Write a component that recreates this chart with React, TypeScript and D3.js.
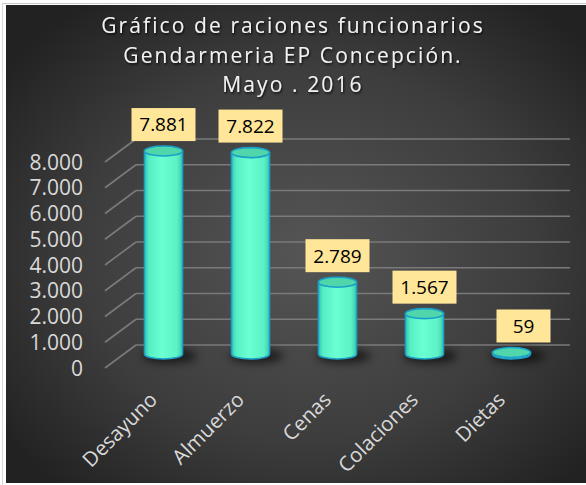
import React from "react";
import * as d3 from "d3";

const categories = ["Desayuno", "Almuerzo", "Cenas", "Colaciones", "Dietas"];
const values = [7881, 7822, 2789, 1567, 59];
const valueLabels = ["7.881", "7.822", "2.789", "1.567", "59"];
const yTicks = [0, 1000, 2000, 3000, 4000, 5000, 6000, 7000, 8000];
const titleLines = ["Gráfico de raciones funcionarios", "Gendarmeria EP Concepción.", "Mayo . 2016"];

const W = 586;
const H = 485;

export default function App() {
  const fmt = (v: number) => d3.format(",")(v).replace(/,/g, ".");
  const yFront = d3.scaleLinear().domain([0, 8000]).range([368, 162]);
  const depthX = 31;
  const depthY = 23;
  const frontX = 105;
  const backRight = 570;
  const barDepth = 14;
  const x = d3.scaleBand<string>().domain(categories).range([120, 555]).padding(0);
  const bw = 38;
  const ry = 5;
  const font = "'Open Sans', 'Noto Sans', sans-serif";

  return (
    <svg width={W} height={H} style={{ position: "absolute", left: 0, top: 0 }}>
      <defs>
        <radialGradient id="bg" cx="52%" cy="52%" r="65%">
          <stop offset="0%" stopColor="#555555" />
          <stop offset="60%" stopColor="#3d3d3d" />
          <stop offset="100%" stopColor="#222222" />
        </radialGradient>
        <linearGradient id="cyl" x1="0" x2="1" y1="0" y2="0">
          <stop offset="0%" stopColor="#33c9b0" />
          <stop offset="12%" stopColor="#55eec4" />
          <stop offset="45%" stopColor="#6bffd2" />
          <stop offset="85%" stopColor="#5cf2c6" />
          <stop offset="100%" stopColor="#3acbb0" />
        </linearGradient>
        <filter id="blur" x="-50%" y="-100%" width="200%" height="300%">
          <feGaussianBlur stdDeviation="4" />
        </filter>
        <filter id="tshadow" x="-10%" y="-30%" width="120%" height="160%">
          <feDropShadow dx="1" dy="1.5" stdDeviation="1.2" floodColor="#000" floodOpacity="0.8" />
        </filter>
      </defs>
      <rect x={0} y={0} width={W} height={H} fill="#ffffff" />
      <rect x={6} y={5} width={W - 6} height={478} fill="url(#bg)" />
      <line x1={2} x2={W} y1={3.5} y2={3.5} stroke="#c8c8c8" strokeWidth={1} />
      <line x1={2.5} x2={2.5} y1={3.5} y2={H} stroke="#d8d8d8" strokeWidth={1} />

      {/* title */}
      <g filter="url(#tshadow)">
        {titleLines.map((t, i) => (
          <text
            key={i}
            x={293}
            y={33 + i * 29.5}
            textAnchor="middle"
            fill="#f2f2f2"
            fontFamily={font}
            fontSize={21}
            letterSpacing={2.1}
          >
            {t}
          </text>
        ))}
      </g>

      {/* gridlines */}
      {yTicks.map((t) => {
        const yf = yFront(t);
        return (
          <g key={t} stroke="#7a7a7a" strokeWidth={1.6} fill="none">
            <line x1={frontX} y1={yf} x2={frontX + depthX} y2={yf - depthY} />
            <line x1={frontX + depthX} y1={yf - depthY} x2={backRight} y2={yf - depthY} />
          </g>
        );
      })}

      {/* y labels */}
      {yTicks.map((t) => (
        <text
          key={t}
          x={83}
          y={yFront(t)}
          dy="0.36em"
          textAnchor="end"
          fill="#d9d9d9"
          fontFamily={font}
          fontSize={21}
        >
          {fmt(t)}
        </text>
      ))}

      {/* bars */}
      {categories.map((c, i) => {
        const cx = (x(c) as number) + x.bandwidth() / 2;
        const yb = yFront(0) - barDepth;
        const yt = yFront(values[i]) - barDepth;
        const l = cx - bw / 2;
        const r = cx + bw / 2;
        const body = `M${l},${yt} L${l},${yb} A${bw / 2},${ry} 0 0 0 ${r},${yb} L${r},${yt} Z`;
        return (
          <g key={c}>
            <ellipse cx={cx + 6} cy={yb + 2} rx={bw / 2 + 8} ry={ry + 2} fill="#000" opacity={0.6} filter="url(#blur)" />
            <path d={body} fill="url(#cyl)" stroke="#1b9fc8" strokeWidth={1.6} />
            <ellipse cx={cx} cy={yt} rx={bw / 2} ry={ry} fill="#4fd7ab" stroke="#1b9fc8" strokeWidth={1.6} />
          </g>
        );
      })}

      {/* data labels */}
      {categories.map((c, i) => {
        const cx = (x(c) as number) + x.bandwidth() / 2;
        const yt = yFront(values[i]) - barDepth;
        const bwl = valueLabels[i].length > 2 ? 64 : 54;
        const bh = 33;
        const bx = cx - bwl / 2 + (i === 4 ? 12 : 0);
        const by = yt - 10 - bh;
        return (
          <g key={c}>
            <rect x={bx} y={by} width={bwl} height={bh} fill="#ffe699" />
            <text
              x={bx + bwl / 2}
              y={by + bh / 2}
              dy="0.36em"
              textAnchor="middle"
              fill="#000"
              fontFamily={font}
              fontSize={19}
            >
              {valueLabels[i]}
            </text>
          </g>
        );
      })}

      {/* x labels */}
      {categories.map((c) => {
        const cx = (x(c) as number) + x.bandwidth() / 2;
        return (
          <text
            key={c}
            transform={`translate(${cx - 5},${401}) rotate(-45)`}
            textAnchor="end"
            fill="#d9d9d9"
            fontFamily={font}
            fontSize={20.5}
          >
            {c}
          </text>
        );
      })}
    </svg>
  );
}
